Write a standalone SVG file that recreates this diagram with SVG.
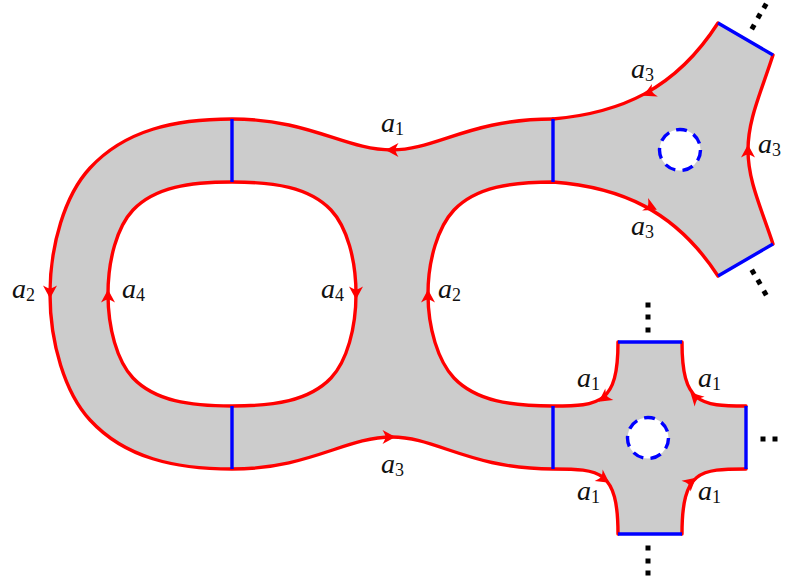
<svg xmlns="http://www.w3.org/2000/svg" width="785" height="582" viewBox="0 0 785 582">
<style>
.r{fill:none;stroke:#f00;stroke-width:3.4;stroke-linejoin:round;stroke-linecap:round}
.b{fill:none;stroke:#00f;stroke-width:3.4}
.d{fill:#fff;stroke:#00f;stroke-width:3.4;stroke-dasharray:11 7.4}
.k{fill:#000}
.a{fill:#f00}
text{font-family:"Liberation Serif","Times New Roman",serif;font-size:28px;font-style:italic;fill:#111}
text tspan{font-size:18px;font-style:normal}
</style>
<defs>
<path id="ah" d="M6.5 0L-6.5 -7Q-3.5 -2 -3.5 0Q-3.5 2 -6.5 7Z"/>
<rect id="dt" x="-2.5" y="-2.5" width="5" height="5"/>
</defs>
<g id="surface">
<path d="M553 119C470 119 436 150 392 150C345 150 310 119 232 119C175 119 125 130 90 168C65 195 50 245 50 294C50 343 65 393 90 420C125 458 175 469 232 469C310 469 345 437 392 437C436 437 470 469 553 469C600 469 618 470 618 534L682 534C682 470 700 469 746 469L746 406C700 406 682 404 682 342L618 342C618 404 600 406 553 406C511 406 476 401 454 378C438 361 428 328 428 294C428 260 438 227 454 210C476 187 511 182 553 182C620 187 675 210 718 276L773 244C760 205 748 180 748 150C748 120 760 95 773 55L718 23C675 90 620 113 553 119Z" fill="#ccc"/>
<path d="M232 182C190 182 155 187 133 210C117 227 108 260 108 294C108 328 117 361 133 378C155 401 190 406 232 406C274 406 309 401 331 378C347 361 356 328 356 294C356 260 347 227 331 210C309 187 274 182 232 182Z" fill="#fff"/>
</g>
<g id="connectors">
<path class="r" d="M553 119C470 119 436 150 392 150C345 150 310 119 232 119C175 119 125 130 90 168C65 195 50 245 50 294C50 343 65 393 90 420C125 458 175 469 232 469C310 469 345 437 392 437C436 437 470 469 553 469C600 469 618 470 618 534"/>
<path class="r" d="M682 534C682 470 700 469 746 469"/>
<path class="r" d="M746 406C700 406 682 404 682 342"/>
<path class="r" d="M618 342C618 404 600 406 553 406C511 406 476 401 454 378C438 361 428 328 428 294C428 260 438 227 454 210C476 187 511 182 553 182C620 187 675 210 718 276"/>
<path class="r" d="M773 244C760 205 748 180 748 150C748 120 760 95 773 55"/>
<path class="r" d="M718 23C675 90 620 113 553 119"/>
<path class="r" d="M232 182C190 182 155 187 133 210C117 227 108 260 108 294C108 328 117 361 133 378C155 401 190 406 232 406C274 406 309 401 331 378C347 361 356 328 356 294C356 260 347 227 331 210C309 187 274 182 232 182Z"/>
<path class="b" d="M232 119V182M232 406V469M553 119V182M553 406V469M618 342H682M618 534H682M746 406V469M718 23L773 55M718 276L773 244"/>
<g class="a">
<use href="#ah" transform="translate(392,150) rotate(180)"/>
<use href="#ah" transform="translate(50,292) rotate(90)"/>
<use href="#ah" transform="translate(108,296) rotate(-90)"/>
<use href="#ah" transform="translate(356,293) rotate(90)"/>
<use href="#ah" transform="translate(428,296) rotate(-90)"/>
<use href="#ah" transform="translate(389,437)"/>
<use href="#ah" transform="translate(649,93) rotate(155)"/>
<use href="#ah" transform="translate(651,207) rotate(25)"/>
<use href="#ah" transform="translate(748,151) rotate(-90)"/>
<use href="#ah" transform="translate(604,398) rotate(145)"/>
<use href="#ah" transform="translate(695,397) rotate(-135)"/>
<use href="#ah" transform="translate(604,479) rotate(35)"/>
<use href="#ah" transform="translate(691,482) rotate(-40)"/>
</g>
</g>
<g id="hole-top"><circle class="d" cx="680" cy="150" r="20.5"/></g>
<g id="hole-bottom"><circle class="d" cx="648" cy="438" r="20.5"/></g>
<g id="dots" class="k">
<use href="#dt" transform="translate(765,6) rotate(30)"/><use href="#dt" transform="translate(759,16) rotate(30)"/><use href="#dt" transform="translate(753,27) rotate(30)"/>
<use href="#dt" transform="translate(753,272) rotate(-30)"/><use href="#dt" transform="translate(759,282) rotate(-30)"/><use href="#dt" transform="translate(765,293) rotate(-30)"/>
<use href="#dt" x="648" y="305"/><use href="#dt" x="648" y="317"/><use href="#dt" x="648" y="330"/>
<use href="#dt" x="763" y="439"/><use href="#dt" x="775" y="439"/>
<use href="#dt" x="648" y="548"/><use href="#dt" x="648" y="561"/><use href="#dt" x="648" y="573"/>
</g>
<g id="labels">
<text x="381" y="132">a<tspan dy="3">1</tspan></text>
<text x="12" y="298">a<tspan dy="3">2</tspan></text>
<text x="122" y="298">a<tspan dy="3">4</tspan></text>
<text x="321" y="298">a<tspan dy="3">4</tspan></text>
<text x="438" y="298">a<tspan dy="3">2</tspan></text>
<text x="381" y="473">a<tspan dy="3">3</tspan></text>
<text x="631" y="78">a<tspan dy="3">3</tspan></text>
<text x="631" y="235">a<tspan dy="3">3</tspan></text>
<text x="758" y="153">a<tspan dy="3">3</tspan></text>
<text x="577" y="387">a<tspan dy="3">1</tspan></text>
<text x="698" y="387">a<tspan dy="3">1</tspan></text>
<text x="577" y="500">a<tspan dy="3">1</tspan></text>
<text x="698" y="500">a<tspan dy="3">1</tspan></text>
</g>
</svg>
